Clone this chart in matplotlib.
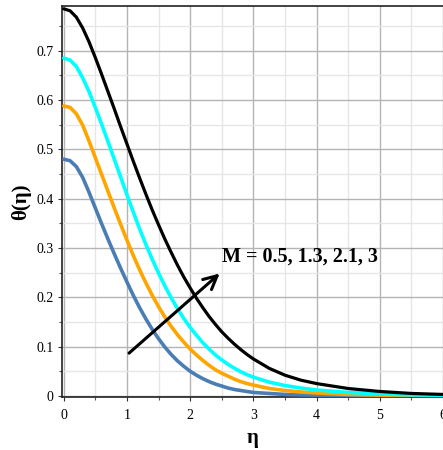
import matplotlib
matplotlib.use("Agg")
import matplotlib.pyplot as plt
from matplotlib.ticker import MultipleLocator

plt.rcParams['font.family'] = ['Liberation Serif', 'DejaVu Serif']

# temperature profiles theta(eta) for increasing magnetic parameter M
eta = [0.0, 0.1, 0.2, 0.3, 0.4, 0.5, 0.6, 0.7, 0.8, 0.9, 1.0, 1.1, 1.2, 1.3, 1.4,
       1.5, 1.6, 1.7, 1.8, 1.9, 2.0, 2.1, 2.2, 2.3, 2.4, 2.5, 2.6, 2.7, 2.8, 2.9,
       3.0, 3.25, 3.5, 3.75, 4.0, 4.5, 5.0, 5.5, 6.0]
theta_m05 = [0.480, 0.477, 0.465, 0.443, 0.413, 0.381, 0.349, 0.318, 0.288, 0.259,
             0.231, 0.204, 0.179, 0.156, 0.135, 0.116, 0.099, 0.084, 0.071, 0.060,
             0.050, 0.042, 0.035, 0.029, 0.024, 0.020, 0.016, 0.013, 0.011, 0.009,
             0.007, 0.005, 0.003, 0.002, 0.0015, 0.0008, 0.0004, 0.0002, 0.0001]
theta_m13 = [0.588, 0.585, 0.572, 0.549, 0.517, 0.483, 0.449, 0.415, 0.381, 0.348,
             0.316, 0.285, 0.256, 0.229, 0.204, 0.181, 0.160, 0.141, 0.124, 0.109,
             0.095, 0.083, 0.072, 0.062, 0.053, 0.046, 0.040, 0.034, 0.029, 0.025,
             0.022, 0.015, 0.011, 0.008, 0.006, 0.003, 0.0016, 0.0008, 0.0004]
theta_m21 = [0.685, 0.681, 0.668, 0.645, 0.617, 0.585, 0.551, 0.516, 0.480, 0.444,
             0.408, 0.373, 0.339, 0.307, 0.277, 0.249, 0.223, 0.199, 0.177, 0.157,
             0.139, 0.123, 0.108, 0.095, 0.083, 0.073, 0.064, 0.056, 0.049, 0.043,
             0.038, 0.028, 0.021, 0.016, 0.012, 0.007, 0.004, 0.002, 0.001]
theta_m3 = [0.785, 0.781, 0.768, 0.746, 0.718, 0.686, 0.652, 0.617, 0.582, 0.546,
            0.511, 0.476, 0.442, 0.409, 0.377, 0.347, 0.318, 0.291, 0.265, 0.241,
            0.219, 0.198, 0.179, 0.161, 0.145, 0.130, 0.117, 0.105, 0.094, 0.084,
            0.075, 0.056, 0.042, 0.032, 0.025, 0.015, 0.009, 0.005, 0.003]

series = [
    (theta_m05, '#4b7db5', 2.6),
    (theta_m13, '#ffa500', 2.6),
    (theta_m21, '#00ffff', 2.6),
    (theta_m3, '#000000', 2.3),
]

fig = plt.figure(figsize=(4.43, 4.5), dpi=100)
ax = fig.add_axes([0.141, 0.118, 0.859, 0.869])

for y, c, lw in series:
    ax.plot(eta, y, color=c, lw=lw, solid_capstyle='round',
            solid_joinstyle='round', zorder=3)

ax.set_xlim(-0.02, 6.0)
ax.set_ylim(-0.002, 0.791)
ax.xaxis.set_major_locator(MultipleLocator(1))
ax.xaxis.set_minor_locator(MultipleLocator(0.5))
ax.yaxis.set_minor_locator(MultipleLocator(0.05))
ax.set_yticks([0, 0.1, 0.2, 0.3, 0.4, 0.5, 0.6, 0.7])
ax.set_yticklabels(['0', '0.1', '0.2', '0.3', '0.4', '0.5', '0.6', '0.7'])

ax.grid(which='major', color='#b4b4b4', lw=1.0, zorder=0)
ax.grid(which='minor', color='#e6e6e6', lw=1.0, zorder=0)
ax.set_axisbelow(True)

ax.tick_params(which='major', direction='out', length=3, width=0.8,
               labelsize=10, colors='#333333', labelcolor='black')
ax.tick_params(which='minor', direction='out', length=2, width=0.8, colors='#555555')
ax.tick_params(axis='x', pad=6)

for side in ['left', 'bottom', 'top']:
    ax.spines[side].set_color('#222222')
    ax.spines[side].set_linewidth(1.2)
ax.spines['right'].set_visible(False)

ax.set_xlabel('η', fontsize=15, fontweight='bold', labelpad=4)
ax.set_ylabel('θ(η)', fontsize=15, fontweight='bold', labelpad=4)

ax.annotate('', xy=(2.5, 0.252), xytext=(1.0, 0.083),
            arrowprops=dict(arrowstyle='->', color='black', lw=2.2,
                            mutation_scale=24), zorder=5)
ax.text(2.5, 0.283, 'M = 0.5, 1.3, 2.1, 3', fontsize=14.5, fontweight='bold',
        ha='left', va='center', zorder=5)

fig.savefig('out.png', dpi=100)
